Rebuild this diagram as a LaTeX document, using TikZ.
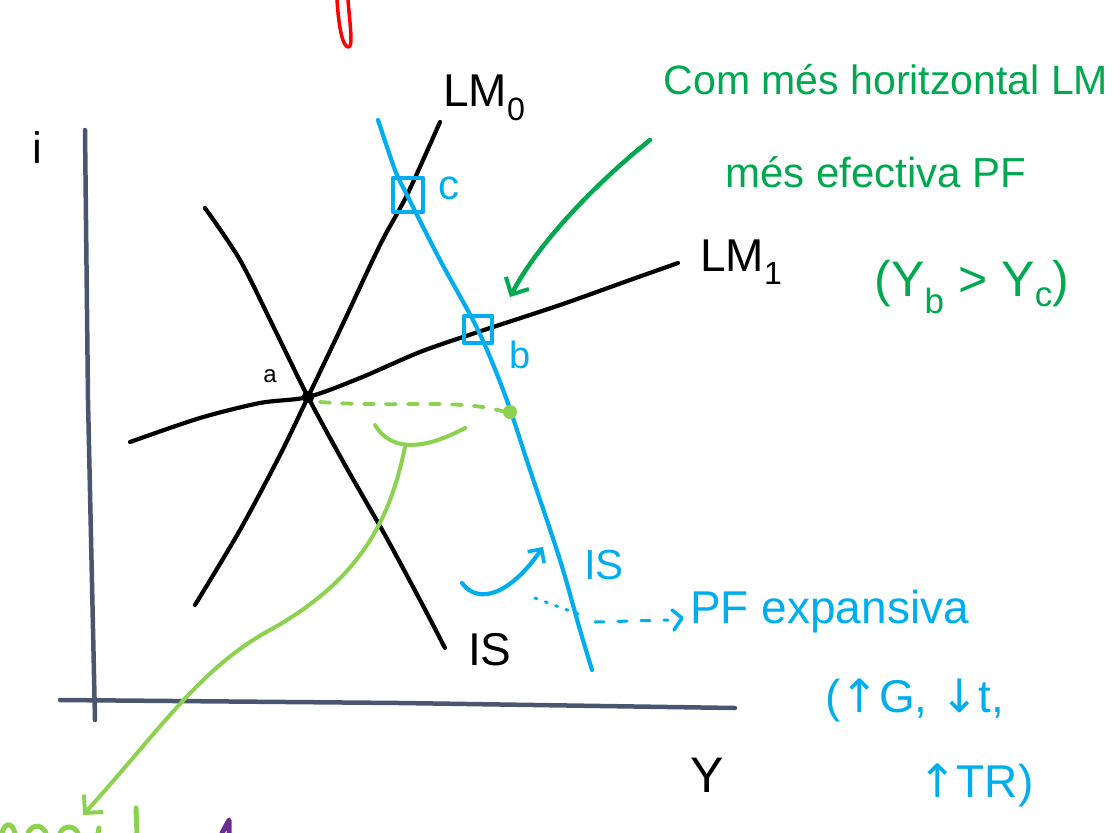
\documentclass[tikz,border=0pt]{standalone}
\usepackage{fontspec}
\setmainfont{Liberation Sans}
\newfontfamily\dejavu{DejaVu Sans}
\usetikzlibrary{arrows.meta}
\definecolor{axisc}{HTML}{4A5670}
\definecolor{bluec}{HTML}{00AEEF}
\definecolor{dgreen}{HTML}{00A84F}
\definecolor{lgreen}{HTML}{8CD150}
\definecolor{purp}{HTML}{6A2C91}
\newcommand{\fsz}[1]{\fontsize{#1}{#1}\selectfont}
\begin{document}
\begin{tikzpicture}[x=1pt,y=-1pt,line cap=round,line join=round,
  curve/.style={black,line width=4.2pt},
  axis/.style={axisc,line width=4.5pt},
  bcurve/.style={bluec,line width=4.2pt},
  lab/.style={inner sep=0pt,anchor=center},
  barb/.style={-{Straight Barb[length=13pt,width=26pt,line width=4pt]}}]
\useasboundingbox (0,0) rectangle (1117,833);
% axes
\draw[axis] (85,130) -- (88,400) -- (95,720);
\draw[axis] (60,700) -- (400,703) -- (735,708);
\node[lab] (ilab) at (37,148) {\fsz{44}i};
\node[lab] (ylab) at (707,775) {\fsz{50}Y};
% black curves
\draw[curve] plot[smooth] coordinates {(195,605) (240,530) (280,455) (308,397) (340,330) (380,245) (407,195) (440,122)};
\draw[curve] plot[smooth] coordinates {(205,208) (240,260) (275,330) (308,397) (345,465) (385,535) (420,600) (445,648)};
\draw[curve] plot[smooth] coordinates {(130,442) (200,418) (260,403) (308,397) (360,378) (420,352) (478,332) (560,305) (630,280) (678,263)};
\coordinate (a) at (308,397);
\draw[black,line width=3.5pt] (a) circle (4.5);
\node[lab] (alab) at (270,376) {\fsz{24}a};
\node[lab,anchor=west] (lm0) at (443,98) {\fsz{46}LM\textsubscript{0}};
\node[lab,anchor=west] (lm1) at (700,262) {\fsz{46}LM\textsubscript{1}};
\node[lab,anchor=west] (islab) at (468,650) {\fsz{46}IS};
% blue IS
\draw[bcurve] plot[smooth] coordinates {(378,120) (395,170) (407,195) (440,260) (478,330) (505,395) (530,470) (560,560) (580,630) (592,670)};
\draw[bcurve] (393,178) rectangle (423,212);
\draw[bcurve] (464,316) rectangle (492,343);
\node[lab,bluec] (clab) at (449,188) {\fsz{42}c};
\node[lab,bluec] (blab) at (520,355) {\fsz{38}b};
\node[lab,bluec] (is1) at (604,565) {\fsz{42}IS};
\draw[bcurve,-{Straight Barb[length=10pt,width=20pt,line width=3.6pt]}] (462,583) .. controls (478,605) and (510,595) .. (543,547);
\draw[bluec,line width=3pt,dash pattern=on 2pt off 9pt] (535,598) -- (578,614);
\draw[bluec,line width=3pt,dash pattern=on 9pt off 14pt] (595,622) -- (668,620);
\draw[bluec,line width=3.5pt] (672,610) -- (682,618) -- (674,630);
\node[lab,bluec,anchor=west] (pf) at (690,612) {\fsz{46}PF expansiva};
\node[lab,bluec,anchor=west] (pf2) at (825,700) {\fsz{46}({\dejavu ↑}G, {\dejavu ↓}t,};
\node[lab,bluec,anchor=west] (pf3) at (918,785) {\fsz{46}{\dejavu ↑}TR)};
% green text and arrow
\node[lab,dgreen] (g1) at (886,80) {\fsz{41}Com més horitzontal LM};
\node[lab,dgreen] (g2) at (876,172) {\fsz{42}més efectiva PF};
\node[lab,dgreen] (g3) at (972,287) {\fsz{50}(Y\textsubscript{b} > Y\textsubscript{c})};
\draw[dgreen,line width=4.5pt,barb] (650,140) .. controls (600,180) and (540,240) .. (510,297);
% light green
\draw[lgreen,line width=3.8pt,dash pattern=on 10pt off 12pt] (320,402) .. controls (400,408) and (460,398) .. (505,412);
\fill[lgreen] (510,412) circle (7);
\draw[lgreen,line width=4pt] (375,425) .. controls (390,450) and (420,452) .. (465,428);
\draw[lgreen,line width=4pt,barb] (405,447) .. controls (390,520) and (360,580) .. (270,630) .. controls (200,668) and (160,730) .. (83,815);
\draw[lgreen,line width=5pt] (136,808) -- (137,833);
\draw[lgreen,line width=5pt] (2,833) .. controls (5,822) and (12,822) .. (15,833);
\draw[lgreen,line width=5pt] (28,833) .. controls (32,824) and (42,824) .. (46,833);
\draw[lgreen,line width=5pt] (60,833) .. controls (64,825) and (74,825) .. (78,833);
\draw[lgreen,line width=5pt] (98,833) -- (99,828);
\draw[purp,line width=5pt] (222,833) -- (229,820) -- (229,833);
% red mark
\draw[red,line width=3.5pt] (337,0) .. controls (339,30) and (343,48) .. (349,47) .. controls (353,45) and (350,25) .. (348,0);
\end{tikzpicture}
\end{document}
